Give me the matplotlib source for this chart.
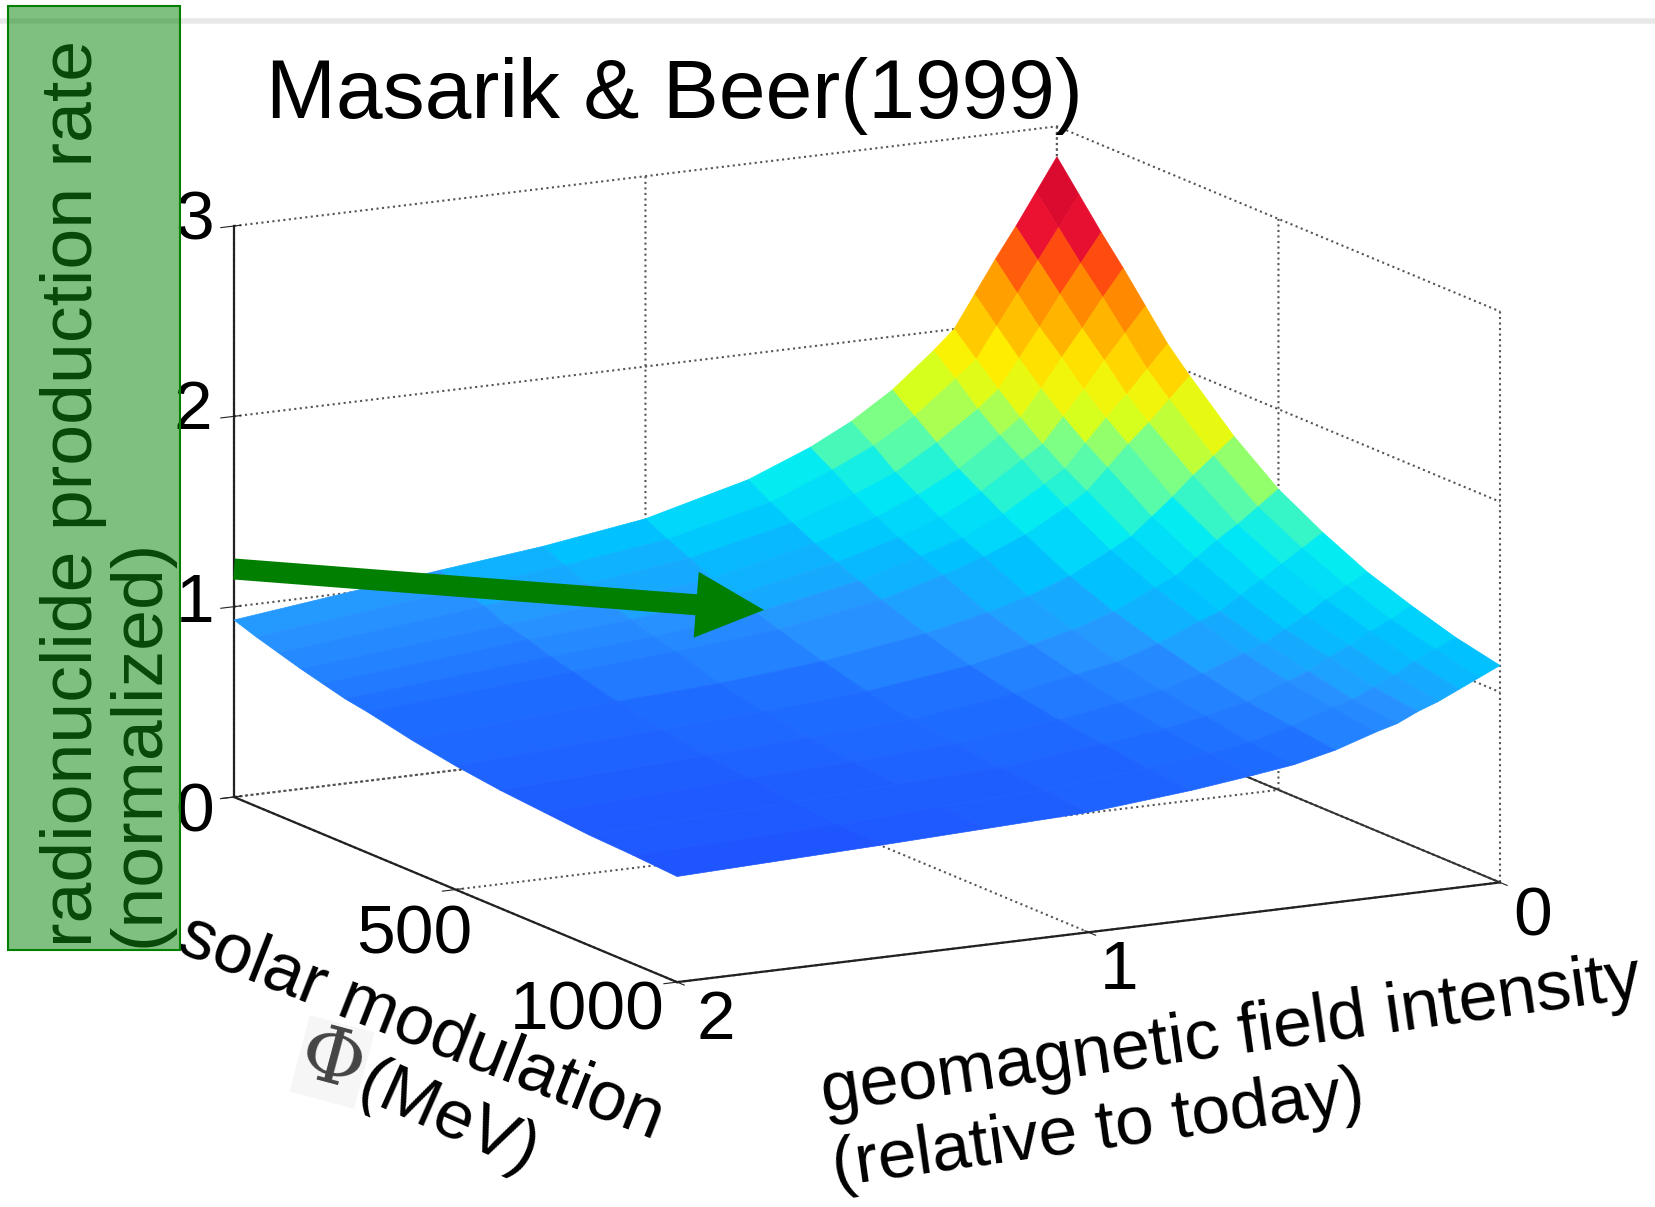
import numpy as np
import matplotlib
matplotlib.use("Agg")
import matplotlib.pyplot as plt
from matplotlib.colors import LinearSegmentedColormap, Normalize
from matplotlib.patches import FancyArrow, Rectangle
from mpl_toolkits.mplot3d import proj3d

W, H = 1656, 1207

# axis ticks
x_ticks = [0, 1, 2]
y_ticks = [0, 500, 1000]
z_ticks = [0, 1, 2, 3]

# surface: geomagnetic intensity (rows), solar modulation (columns)
geomag = [0, 0.05, 0.1, 0.15, 0.2, 0.25, 0.3, 0.4, 0.5, 0.6, 0.75, 1, 1.25, 1.5, 2]
phi = [0, 50, 100, 150, 200, 250, 300, 400, 500, 600, 700, 800, 900, 1000]
rate = [
    [2.84, 2.69, 2.54, 2.40, 2.25, 2.10, 1.98, 1.76, 1.58, 1.45, 1.34, 1.26, 1.19, 1.14],
    [2.67, 2.53, 2.39, 2.26, 2.12, 1.98, 1.87, 1.67, 1.50, 1.38, 1.28, 1.20, 1.14, 1.09],
    [2.50, 2.37, 2.24, 2.11, 1.99, 1.86, 1.76, 1.58, 1.42, 1.31, 1.22, 1.15, 1.09, 1.04],
    [2.34, 2.21, 2.08, 1.97, 1.85, 1.75, 1.66, 1.48, 1.35, 1.24, 1.15, 1.09, 1.03, 0.99],
    [2.17, 2.05, 1.93, 1.82, 1.72, 1.63, 1.55, 1.39, 1.27, 1.17, 1.09, 1.04, 0.98, 0.95],
    [2.00, 1.89, 1.78, 1.68, 1.59, 1.51, 1.44, 1.30, 1.19, 1.10, 1.03, 0.98, 0.93, 0.90],
    [1.90, 1.80, 1.69, 1.60, 1.52, 1.44, 1.37, 1.24, 1.14, 1.06, 0.99, 0.94, 0.90, 0.87],
    [1.72, 1.63, 1.54, 1.45, 1.38, 1.31, 1.25, 1.13, 1.04, 0.97, 0.91, 0.86, 0.83, 0.80],
    [1.58, 1.50, 1.41, 1.34, 1.27, 1.21, 1.16, 1.05, 0.97, 0.90, 0.85, 0.81, 0.77, 0.75],
    [1.47, 1.40, 1.32, 1.25, 1.19, 1.14, 1.09, 0.99, 0.92, 0.86, 0.81, 0.77, 0.74, 0.72],
    [1.34, 1.27, 1.21, 1.15, 1.10, 1.05, 1.00, 0.92, 0.85, 0.80, 0.76, 0.73, 0.70, 0.68],
    [1.20, 1.14, 1.09, 1.03, 0.99, 0.95, 0.91, 0.84, 0.78, 0.73, 0.70, 0.67, 0.65, 0.63],
    [1.12, 1.07, 1.02, 0.97, 0.93, 0.89, 0.86, 0.79, 0.74, 0.70, 0.67, 0.65, 0.63, 0.61],
    [1.06, 1.01, 0.97, 0.92, 0.89, 0.85, 0.82, 0.76, 0.71, 0.67, 0.65, 0.62, 0.60, 0.59],
    [0.93, 0.89, 0.855, 0.82, 0.79, 0.76, 0.74, 0.69, 0.65, 0.62, 0.60, 0.58, 0.57, 0.555],
]

# colours seen at given heights of the surface
color_levels = [0.55, 0.75, 0.93, 1.14, 1.34, 1.58, 1.75, 1.92, 2.05, 2.25, 2.4, 2.46, 2.84]
color_values = ["#1e55ff", "#1e6eff", "#2896ff", "#00c3ff", "#00ebf5", "#6eff96", "#d7ff1e",
                "#fff000", "#ffc800", "#ff8c00", "#ff500f", "#f01432", "#cd052d"]

plt.rcParams["font.family"] = ["Liberation Sans", "DejaVu Sans"]
plt.rcParams["grid.color"] = "#555555"
plt.rcParams["grid.linestyle"] = ":"
plt.rcParams["grid.linewidth"] = 1.5

fig = plt.figure(figsize=(W / 100, H / 100), dpi=100)
# 3d axes are always square, so make them bigger than the figure to avoid clipping
base = [-0.5, -0.5, 2, 2]
ax = fig.add_axes(base, projection="3d", proj_type="ortho")
ax.patch.set_alpha(0)
ax.computed_zorder = False
ax.view_init(elev=13, azim=61.7)
ax.set_xlim(0, 2, view_margin=0)
ax.set_ylim(0, 1000, view_margin=0)
ax.set_zlim(0, 3, view_margin=0)

# mplot3d resets tick label transforms, so the tick numbers are placed in the overlay below
ax.set_xticks(x_ticks, labels=[""] * len(x_ticks))
ax.set_yticks(y_ticks, labels=[""] * len(y_ticks))
ax.set_zticks(z_ticks, labels=[""] * len(z_ticks))
ax.tick_params(width=1.3, color="#222222")
for axis in (ax.xaxis, ax.yaxis, ax.zaxis):
    axis.set_pane_color((1, 1, 1, 0))
    axis.pane.set_edgecolor("none")
    axis.line.set_color("#222222")
    axis.line.set_linewidth(1.6)

norm = Normalize(color_levels[0], color_levels[-1])
stops = [(norm(v), c) for v, c in zip(color_levels, color_values)]
stops[0] = (0.0, color_values[0])
stops[-1] = (1.0, color_values[-1])
cmap = LinearSegmentedColormap.from_list("surface_jet", stops, N=64)

X, Y = np.meshgrid(geomag, phi, indexing="ij")
Z = np.array(rate)
ax.plot([0, 0], [0, 1000], [0, 0], color="#333333", lw=1.3, zorder=1)
surf = ax.plot_surface(X, Y, Z, rstride=1, cstride=1, cmap=cmap, norm=norm, shade=False,
                       linewidth=0, zorder=2)
surf.set_edgecolor("face")
surf.set_linewidth(0.5)


def corner_px(x, y, z):
    xs, ys, _ = proj3d.proj_transform(x, y, z, ax.get_proj())
    return ax.transData.transform((xs, ys))


# fit the box to the picture: left floor corner at (234, 797), 1266 px to right corner
box = (1, 1, 0.627)
ax.set_box_aspect(box)
fig.canvas.draw()
width = corner_px(0, 1000, 0)[0] - corner_px(2, 0, 0)[0]
ax.set_box_aspect(box, zoom=1266 / width)
fig.canvas.draw()
left = corner_px(2, 0, 0)
ax.set_position([base[0] + (234 - left[0]) / W, base[1] + ((H - 797) - left[1]) / H, base[2], base[3]])

# overlay in picture pixels
ov = fig.add_axes([0, 0, 1, 1], zorder=5)
ov.set_xlim(0, W)
ov.set_ylim(H, 0)
ov.axis("off")

ov.plot([0, W], [21, 21], color="#e8e8e8", lw=4, zorder=0)
ov.text(266, 118, "Masarik & Beer(1999)", fontsize=60.5, va="baseline", ha="left", zorder=3)

# tick numbers
x_label_pos = [(1533, 918), (1119, 971), (716, 1021)]
y_label_pos = [(414, 936), (587, 1012)]
z_label_pos = [(195, 813), (195, 604), (193, 411), (195, 221)]
for ticks, places in ((x_ticks, x_label_pos), (y_ticks[1:], y_label_pos), (z_ticks, z_label_pos)):
    for value, (px, py) in zip(ticks, places):
        ov.text(px, py, str(value), fontsize=50, ha="center", va="center", zorder=3)

ov.text(107, 947, "radionuclide production rate\n(normalized)", fontsize=52.8, rotation=90,
        va="bottom", ha="center", multialignment="left", linespacing=1.0, color="#111111", zorder=3)

ov.text(194, 903, "solar modulation", fontsize=50.5, rotation=-21.5, rotation_mode="anchor",
        va="top", ha="left", zorder=3)
ov.text(362, 1081, "(MeV)", fontsize=50, rotation=-24, rotation_mode="anchor",
        va="center", ha="left", zorder=3)
ov.text(332, 1062, "Φ", fontsize=56, family="DejaVu Serif", color="#444444", rotation=-15,
        ha="center", va="center", zorder=3,
        bbox=dict(facecolor="#f6f6f6", edgecolor="none", pad=1))
ov.text(824, 1112, "geomagnetic field intensity", fontsize=50.5, rotation=8, rotation_mode="anchor",
        va="baseline", ha="left", zorder=3)
ov.text(835, 1186, "(relative to today)", fontsize=50, rotation=8, rotation_mode="anchor",
        va="baseline", ha="left", zorder=3)

ov.add_patch(FancyArrow(234, 569, 530, 41, width=21, head_width=66, head_length=68,
                        length_includes_head=True, facecolor="#007f00", edgecolor="none", zorder=4))
ov.add_patch(Rectangle((8, 6), 172, 944, facecolor=(0, 0.5, 0, 0.5), edgecolor="#007f00",
                       lw=1.5, zorder=6))

fig.savefig("out.png", dpi=100, facecolor="white")
